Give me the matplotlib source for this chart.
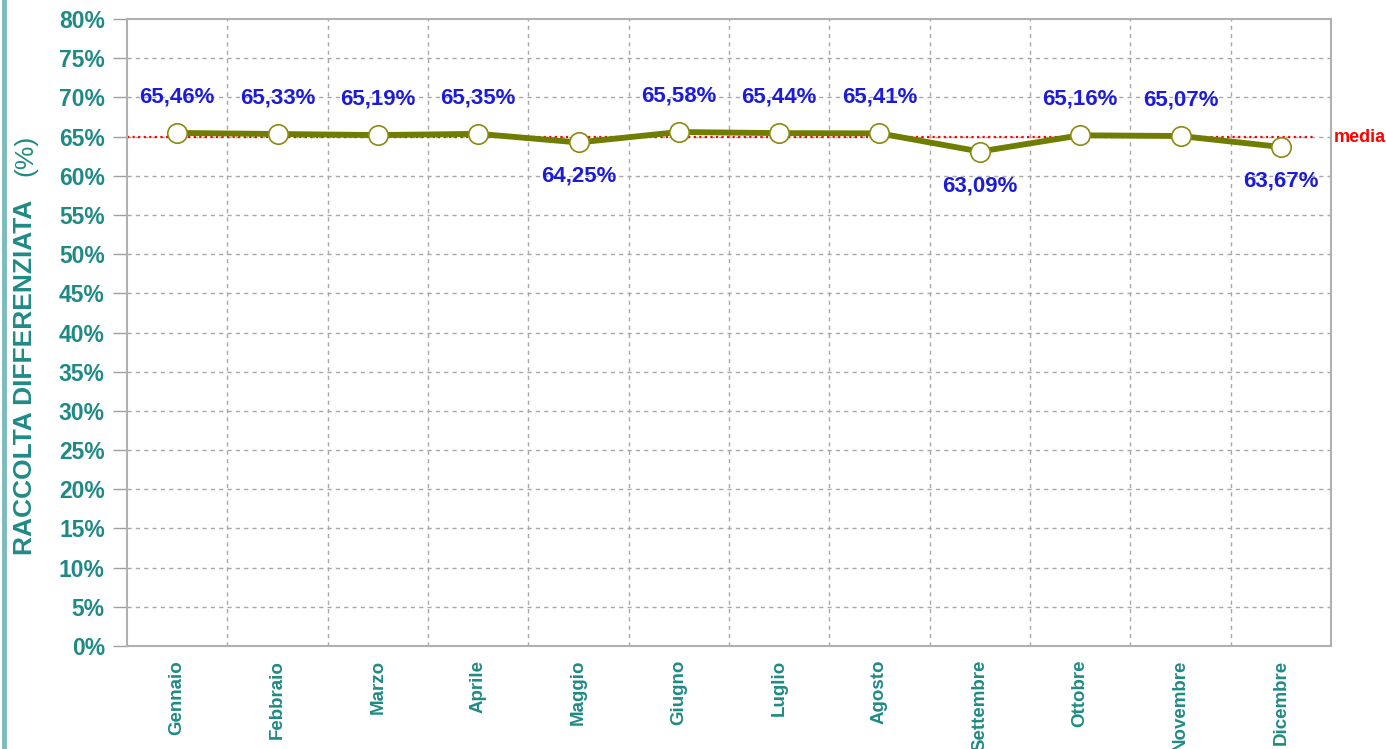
import numpy as np
import matplotlib.pyplot as plt
from matplotlib.lines import Line2D

mesi = ['Gennaio', 'Febbraio', 'Marzo', 'Aprile', 'Maggio', 'Giugno',
        'Luglio', 'Agosto', 'Settembre', 'Ottobre', 'Novembre', 'Dicembre']
valori = [65.46, 65.33, 65.19, 65.35, 64.25, 65.58,
          65.44, 65.41, 63.09, 65.16, 65.07, 63.67]
sotto = [False, False, False, False, True, False,
         False, False, True, False, False, True]  # etichetta sotto il punto

plt.rcParams['font.family'] = ['Liberation Sans', 'DejaVu Sans']
teal = '#1f8a85'
blu = '#1c1cd8'
oliva = '#6f7d00'

fig = plt.figure(figsize=(13.86, 7.49), dpi=100)
ax = fig.add_axes([127 / 1386, 103 / 749, (1331 - 127) / 1386, (646 - 19) / 749])

x = np.arange(len(mesi))
media = np.mean(valori)

ax.axhline(media, xmin=0, xmax=0.985, color='red', linestyle=(0, (1, 1.5)), linewidth=1.6, zorder=2)
ax.plot(x, valori, color=oliva, linewidth=4.2, zorder=3)
ax.plot(x, valori, linestyle='none', marker='o', markersize=14,
        markerfacecolor='white', markeredgecolor='#8a8a10', markeredgewidth=1.2, zorder=4)

for i, v in enumerate(valori):
    testo = ('%.2f%%' % v).replace('.', ',')
    if sotto[i]:
        ax.annotate(testo, (i, v), xytext=(0, -34), textcoords='offset pixels',
                    ha='center', va='center', color=blu, fontsize=16, fontweight='bold', zorder=5)
    else:
        ax.annotate(testo, (i, v), xytext=(0, 36), textcoords='offset pixels',
                    ha='center', va='center', color=blu, fontsize=16, fontweight='bold', zorder=5)

ax.text(1.002, media, 'media', transform=ax.get_yaxis_transform(), color='red',
        fontsize=13, fontweight='bold', ha='left', va='center')

ax.set_xlim(-0.5, 11.5)
ax.set_ylim(0, 80)
ax.set_yticks(np.arange(0, 81, 5))
ax.set_yticklabels(['%d%%' % t for t in range(0, 81, 5)], color=teal, fontsize=16.5, fontweight='bold')
ax.set_xticks(x)
ax.set_xticklabels(mesi, rotation=90, color=teal, fontsize=13.5, fontweight='bold')
ax.tick_params(axis='x', length=0, pad=10)
ax.tick_params(axis='y', length=10, color='#a0a0a0', width=1, pad=6)

for t in np.arange(5, 80, 5):
    ax.axhline(t, color='#a8a8a8', linestyle=(0, (3, 3)), linewidth=1, zorder=1)
for b in np.arange(0.5, 11, 1):
    ax.axvline(b, color='#a8a8a8', linestyle=(0, (3, 3)), linewidth=1, zorder=1)

for s in ax.spines.values():
    s.set_color('#b0b0b0')
    s.set_linewidth(1.5)

fig.text(25 / 1386, 1 - 377 / 749, 'RACCOLTA DIFFERENZIATA', rotation=90, color=teal,
         fontsize=19, fontweight='bold', ha='center', va='center')
fig.text(25 / 1386, 1 - 155 / 749, '(%)', rotation=90, color=teal,
         fontsize=19, ha='center', va='center')

fig.add_artist(Line2D([3.5 / 1386, 3.5 / 1386], [0, 1], color='#7cbcbc', linewidth=3.5,
                      transform=fig.transFigure))

fig.savefig('out.png', dpi=100)
